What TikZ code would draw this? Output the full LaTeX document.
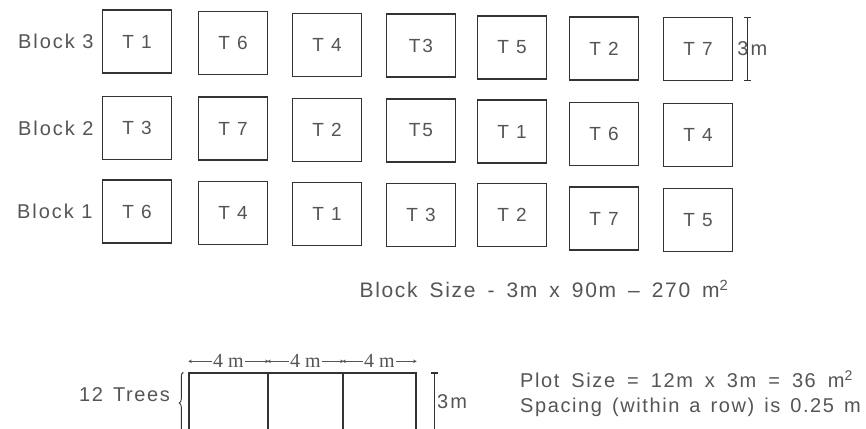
\documentclass[tikz,border=0pt]{standalone}
\usepackage{fontspec}
\setmainfont[LetterSpace=10]{Liberation Sans}
\newfontfamily\infofont[LetterSpace=8]{Liberation Sans}
\newfontfamily\dimfont{Liberation Serif}
\usepackage{xcolor}
\usepackage{tikz}
\usetikzlibrary{arrows.meta, positioning, decorations.pathreplacing}

\definecolor{ink}{HTML}{333333}
\definecolor{txt}{HTML}{555555}

\newcommand{\infospace}{\spaceskip 10pt plus 2pt minus 1pt\relax}
\newcommand{\sizespace}{\spaceskip 12pt plus 2pt minus 1pt\relax}

\begin{document}
\begin{tikzpicture}[x=1pt, y=-1pt,
    plot/.style={rectangle, draw=ink, line width=1.4pt, minimum width=69pt, minimum height=63pt, inner sep=0pt, text=txt, font=\fontsize{19}{22}\selectfont},
    cell/.style={rectangle, draw=ink, line width=1.4pt, minimum height=60pt, inner sep=0pt},
    blocktext/.style={text=txt, inner sep=0pt, font=\fontsize{20}{23}\selectfont},
    infotext/.style={text=txt, inner sep=0pt, font=\infofont\fontsize{20}{23}\selectfont\infospace},
    sizetext/.style={text=txt, inner sep=0pt, font=\infofont\fontsize{20}{23}\selectfont\sizespace},
    dimtext/.style={text=txt, fill=white, inner sep=1pt, font=\dimfont\fontsize{20}{22}\selectfont},
    dimbar/.style={draw=ink, line width=1.2pt, {Bar[width=7pt]}-{Bar[width=7pt]}},
    dimarrow/.style={draw=txt, line width=0.7pt, {Stealth[length=3.5pt, width=3.5pt]}-{Stealth[length=3.5pt, width=3.5pt]}},
    brace/.style={draw=ink, line width=0.9pt, decorate, decoration={brace, amplitude=4pt}}
]
    \useasboundingbox [fill=white] (0, 0) rectangle (866, 428);

    \node [plot] (b3c1) at (137, 41.5) {T 1};
    \node [plot] (b3c2) at (233, 43) {T 6};
    \node [plot] (b3c3) at (327, 45) {T 4};
    \node [plot] (b3c4) at (421, 45.5) {T3};
    \node [plot] (b3c5) at (512, 47.5) {T 5};
    \node [plot] (b3c6) at (604, 48.5) {T 2};
    \node [plot] (b3c7) at (698, 49) {T 7};

    \node [plot] (b2c1) at (137, 128) {T 3};
    \node [plot] (b2c2) at (233, 128.5) {T 7};
    \node [plot] (b2c3) at (327, 130) {T 2};
    \node [plot] (b2c4) at (421, 130.5) {T5};
    \node [plot] (b2c5) at (512, 131.5) {T 1};
    \node [plot] (b2c6) at (604, 134) {T 6};
    \node [plot] (b2c7) at (698, 135) {T 4};

    \node [plot] (b1c1) at (137, 211.5) {T 6};
    \node [plot] (b1c2) at (233, 213) {T 4};
    \node [plot] (b1c3) at (327, 214) {T 1};
    \node [plot] (b1c4) at (421, 215) {T 3};
    \node [plot] (b1c5) at (512, 215) {T 2};
    \node [plot] (b1c6) at (604, 218.5) {T 7};
    \node [plot] (b1c7) at (698, 220) {T 5};

    \node [blocktext, left=8pt of b3c1] (blk3) {Block 3};
    \node [blocktext, left=8pt of b2c1] (blk2) {Block 2};
    \node [blocktext, left=9pt of b1c1] (blk1) {Block 1};

    \draw [dimbar] ([xshift=14pt]b3c7.north east) -- ([xshift=14pt]b3c7.south east);
    \node [blocktext, anchor=west] (hgt3) at ([xshift=4pt]b3c7.east) {3m};

    \node [sizetext, font=\infofont\fontsize{21}{24}\selectfont\sizespace] (bsize) at (544, 289) {Block Size - 3m x 90m – 270 m\textsuperscript{2}};

    \node [cell, minimum width=79pt] (c1) at (228.5, 403) {};
    \node [cell, minimum width=75pt] (c2) at (305.5, 403) {};
    \node [cell, minimum width=73pt] (c3) at (379.5, 403) {};

    \draw [dimarrow] ([yshift=11pt]c1.north west) -- node [dimtext] (len1) {4 m} ([yshift=11pt]c1.north east);
    \draw [dimarrow] ([yshift=11pt]c2.north west) -- node [dimtext] (len2) {4 m} ([yshift=11pt]c2.north east);
    \draw [dimarrow] ([yshift=11pt]c3.north west) -- node [dimtext] (len3) {4 m} ([yshift=11pt]c3.north east);

    \draw [brace] ([xshift=-5pt]c1.south west) -- ([xshift=-5pt]c1.north west);
    \node [infotext, anchor=east] (trees) at (170, 395) {12 Trees};

    \draw [dimbar] ([xshift=18pt]c3.north east) -- ([xshift=18pt]c3.south east);
    \node [blocktext, anchor=west] (hgt1) at (437, 402) {3m};

    \node [sizetext, anchor=west] (psize) at (520, 379) {Plot Size = 12m x 3m = 36 m\textsuperscript{2}};
    \node [infotext, anchor=west] (space) at (520, 407) {Spacing (within a row) is 0.25 m};
\end{tikzpicture}
\end{document}
